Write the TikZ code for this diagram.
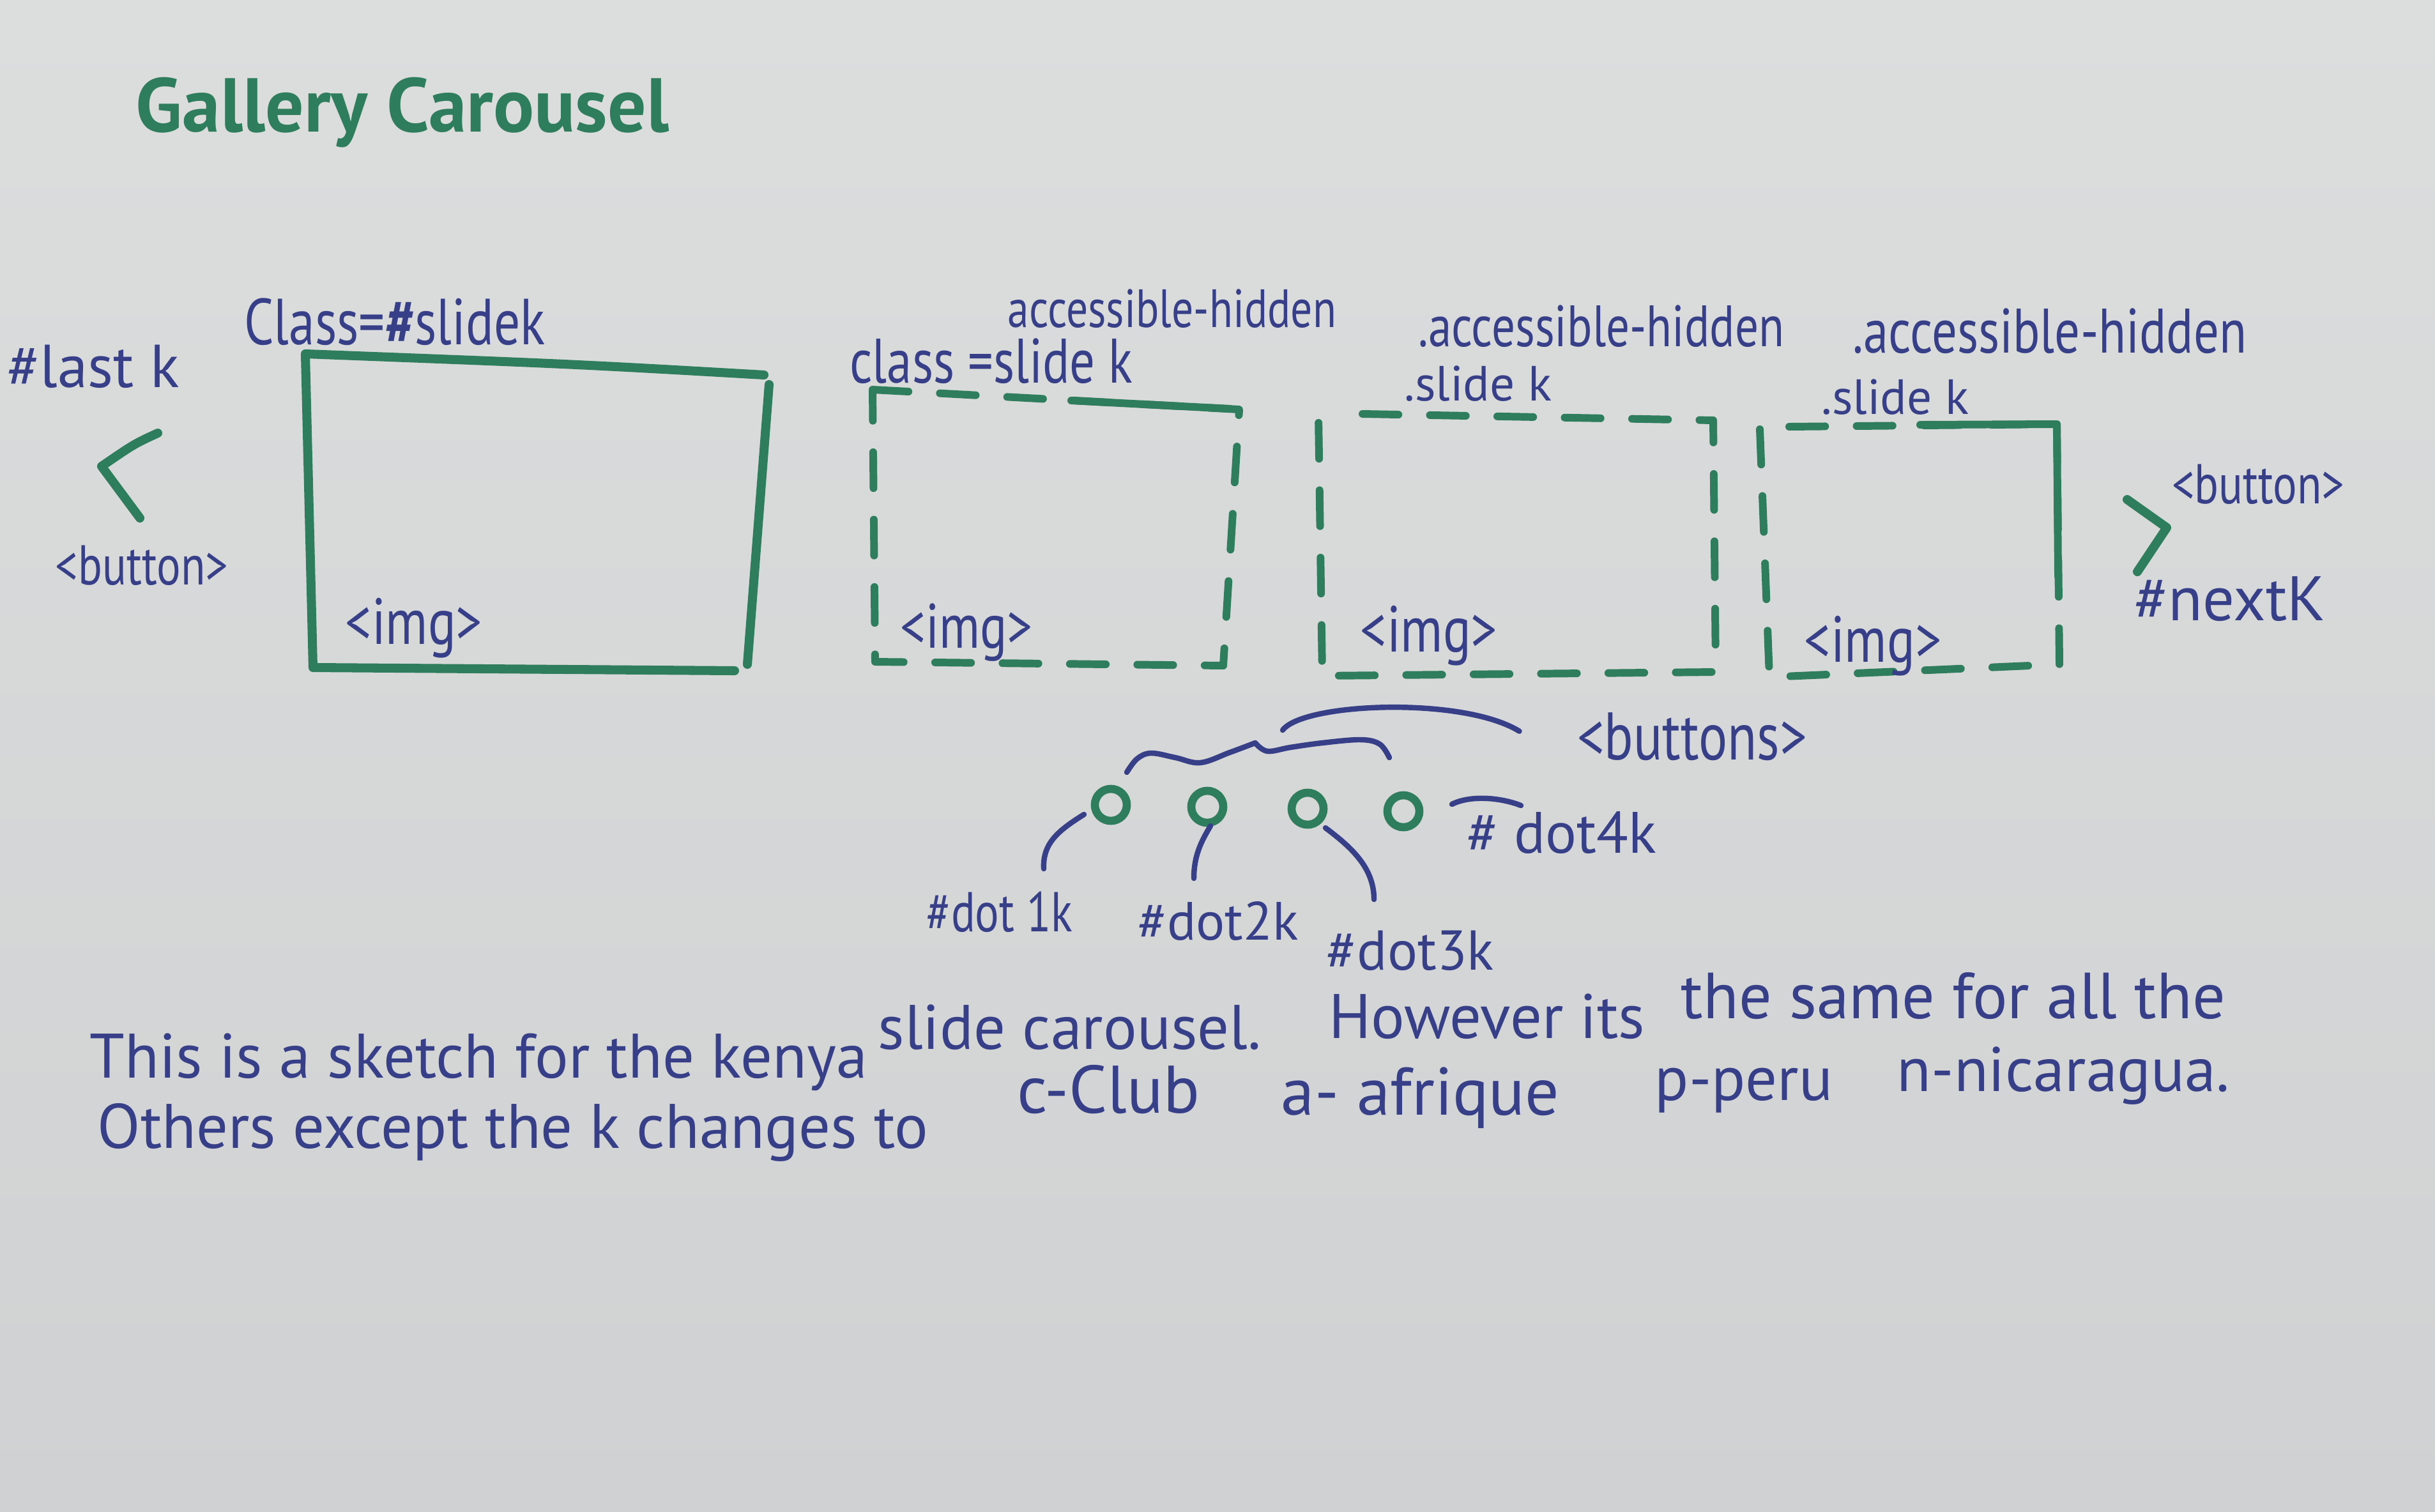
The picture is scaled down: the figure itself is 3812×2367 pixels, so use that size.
\documentclass[tikz,border=0pt]{standalone}
\usepackage{fontspec}
\newfontfamily\hand{PT Sans}
\newfontfamily\handc[FakeStretch=0.8]{PT Sans}
\definecolor{paperhi}{HTML}{DCDDDD}
\definecolor{paperlo}{HTML}{D0D1D2}
\definecolor{inkgreen}{HTML}{2E7D5C}
\definecolor{inkblue}{HTML}{363F88}
\tikzset{
  lbl/.style={text=inkblue, inner sep=0pt, anchor=base, font=\hand\fontsize{#1}{#1}\selectfont},
  lbl/.default=24,
  lblc/.style={lbl, font=\handc\fontsize{#1}{#1}\selectfont},
  lblc/.default=24,
  note/.style={lbl=#1, anchor=base west},
  note/.default=28,
  pen/.style={draw=inkgreen, line width=4pt, line cap=round, line join=round},
  dashpen/.style={pen, line width=3.4pt, dash pattern=on 16pt off 14pt},
  wire/.style={draw=inkblue, line width=2.4pt, line cap=round},
  dotring/.style={circle, draw=inkgreen, line width=3.6pt, minimum size=0.5cm, inner sep=0pt},
}
\begin{document}
\begin{tikzpicture}[x=0.01cm, y=-0.01cm]
  \shade [top color=paperhi, bottom color=paperlo] (0,0) rectangle (3812,2367);
  \useasboundingbox (0,0) rectangle (3812,2367);
  \node (title) [lbl=34, text=inkgreen] at (630,207) {\bfseries Gallery Carousel};
  % previous button
  \node (lastlbl) [lbl=27] at (146,606) {\#last k};
  \draw [pen] (247,678) .. controls (210,695) .. (159,730) -- (219,811);
  \node (lastbtn) [lblc=25] at (222,915) {<button>};
  % slide 1, shown
  \node (s1cls) [lblc=29] at (618,540) {Class={\bfseries\#}slidek};
  \draw [pen] (1196,587) .. controls (900,570) .. (478,554) -- (490,1045) -- (1150,1050);
  \draw [pen] (1204,602) -- (1170,1040);
  \node (img1) [lblc=29] at (648,1008) {<img>};
  % slides 2-4, hidden
  \node (s2hid) [lblc=24] at (1835,512) {accessible-hidden};
  \node (s2cls) [lblc=28] at (1552,600) {class =slide k};
  \draw [dashpen] (1366,610) -- (1940,641) -- (1915,1042) -- (1370,1036) -- cycle;
  \draw [pen, line width=3.4pt] (1677,627) -- (1926,640);
  \node (img2) [lblc=28] at (1513,1014) {<img>};
  \node (s3hid) [lblc=26] at (2507,542) {.accessible-hidden};
  \node (s3cls) [lbl=22] at (2314,627) {.slide k};
  \draw [dashpen] (2133,648) -- (2682,658) -- (2686,1052) -- (2070,1058) -- (2064,650);
  \node (img3) [lblc=29] at (2237,1020) {<img>};
  \node (s4hid) [lblc=28] at (3209,552) {.accessible-hidden};
  \node (s4cls) [lbl=22] at (2967,648) {.slide k};
  \draw [dashpen] (2801,668) -- (3220,664) -- (3224,1040) -- (2770,1060) -- (2755,672);
  \draw [pen, line width=3.4pt] (3006,665) -- (3220,664) -- (3222,902);
  \node (img4) [lblc=29] at (2932,1036) {<img>};
  % next button
  \draw [pen] (3330,782) -- (3392,826) -- (3346,895);
  \node (nextbtn) [lblc=25] at (3535,788) {<button>};
  \node (nextlbl) [lbl=28] at (3491,971) {\#nextK};
  % dots
  \node (dot1) [dotring] at (1739,1260) {};
  \node (dot2) [dotring] at (1890,1263) {};
  \node (dot3) [dotring] at (2047,1266) {};
  \node (dot4) [dotring] at (2197,1270) {};
  \node (btns) [lblc=30] at (2649,1189) {<buttons>};
  \node (d1lbl) [lblc=25] at (1565,1458) {\#dot 1k};
  \node (d2lbl) [lbl=24] at (1907,1471) {\#dot2k};
  \node (d3lbl) [lbl=25] at (2208,1518) {\#dot3k};
  \node (d4lbl) [lbl=26] at (2445,1335) {\# dot4k};
  \draw [wire] plot [smooth, tension=0.6] coordinates {(1764,1209) (1780,1188) (1802,1179) (1840,1186) (1879,1194) (1925,1178) (1965,1163)};
  \draw [wire] plot [smooth, tension=0.6] coordinates {(1965,1163) (1984,1176) (2020,1170) (2070,1163) (2130,1158) (2160,1165) (2175,1186)};
  \draw [wire] (2008,1143) .. controls (2040,1100) and (2290,1090) .. ([shift={(-90,-8)}]btns.west);
  \draw [wire] ([shift={(-42,15)}]dot1.center) .. controls +(-40,25) and +(-2,-40) .. ([shift={(69,-98)}]d1lbl.base);
  \draw [wire] ([shift={(5,30)}]dot2.center) .. controls +(-15,25) and +(0,-35) .. ([shift={(-38,-96)}]d2lbl.base);
  \draw [wire] ([shift={(28,30)}]dot3.center) .. controls +(40,30) and +(0,-50) .. ([shift={(-57,-110)}]d3lbl.base);
  \draw [wire] ([shift={(76,-11)}]dot4.center) .. controls +(30,-15) and +(-30,-12) .. ([shift={(-64,-74)}]d4lbl.base);
  % note, drifting upwards
  \node (n1a) [note] at (140,1687) {This is a sketch for the kenya};
  \node (n1b) [note] at (1374,1642) {slide carousel.};
  \node (n1c) [note] at (2080,1625) {However its};
  \node (n1d) [note=29] at (2631,1594) {the same for all the};
  \node (n2a) [note] at (152,1797) {Others except the k changes to};
  \node (n2b) [note=30] at (1592,1742) {c-Club};
  \node (n2c) [note=30] at (2005,1745) {a- afrique};
  \node (n2d) [note] at (2590,1722) {p-peru};
  \node (n2e) [note] at (2969,1708) {n-nicaragua.};
\end{tikzpicture}
\end{document}
